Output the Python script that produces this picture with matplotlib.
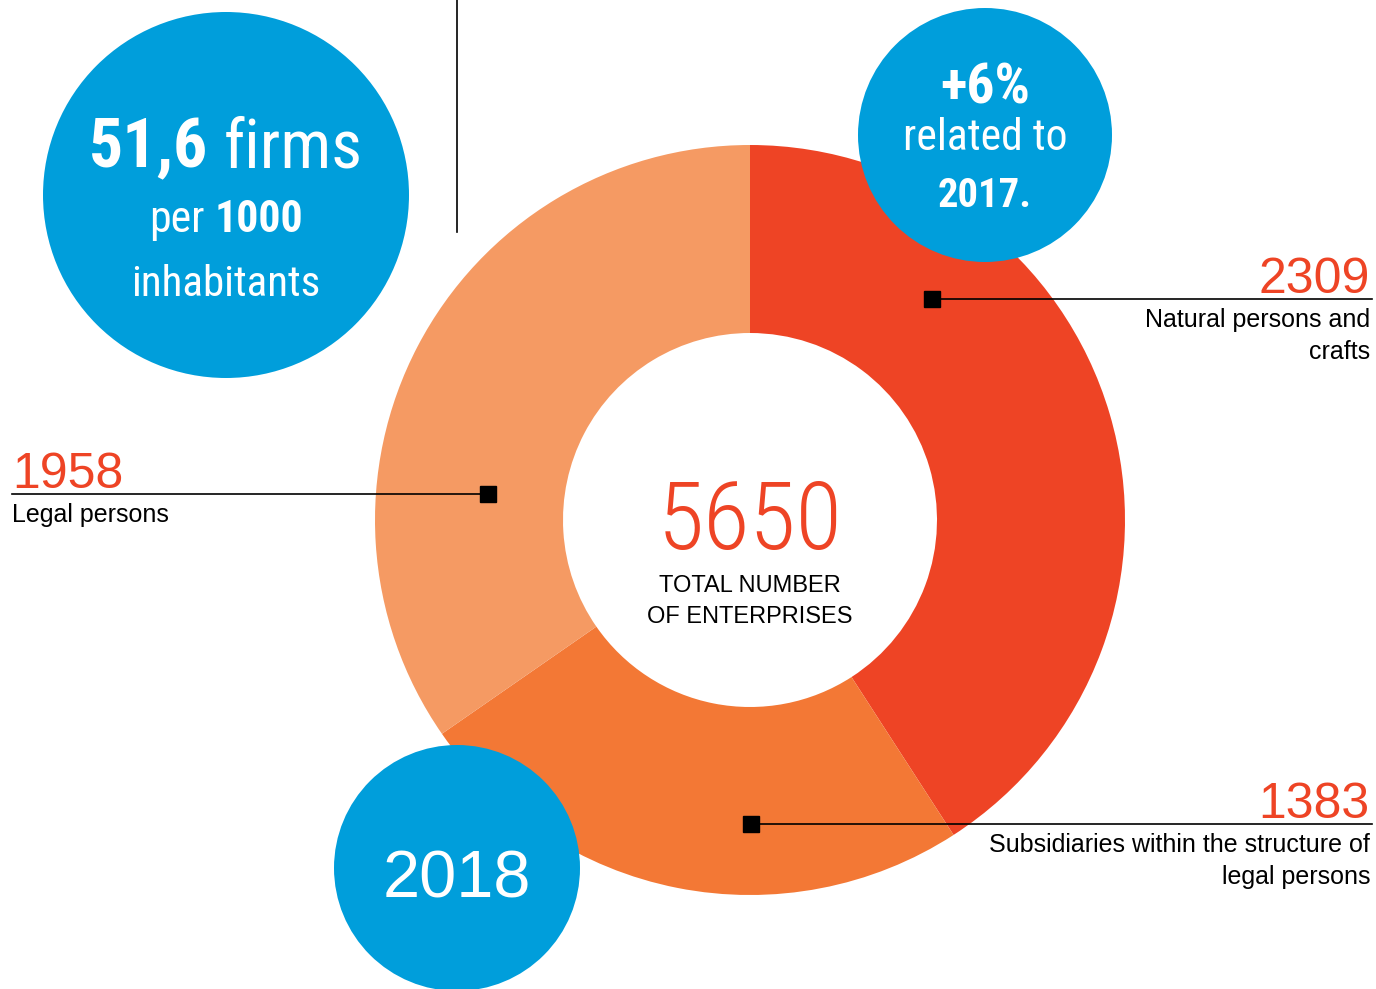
import matplotlib
matplotlib.use("Agg")
import matplotlib.pyplot as plt
from matplotlib import font_manager
from matplotlib.patches import Circle

W, H = 1376, 989

# data
values = [2309, 1383, 1958]
numbers = ["2309", "1383", "1958"]
descr = [["Natural persons and", "crafts"],
         ["Subsidiaries within the structure of", "legal persons"],
         ["Legal persons"]]
colors = ["#EE4425", "#F37835", "#F59A63"]
total_text = ["TOTAL NUMBER", "OF ENTERPRISES"]
year = "2018"
density_lines = [[("51,6", "bold"), ("firms", "normal")],
                 [("per", "normal"), ("1000", "bold")],
                 [("inhabitants", "normal")]]
growth_lines = [[("+6%", "bold")], [("related to", "normal")], [("2017.", "bold")]]

BLUE = "#009EDB"
RED = "#EE4425"

# narrowest family that is installed
fonts = font_manager.fontManager.ttflist
names = {f.name for f in fonts}
NARROW, STRETCH = "Roboto", "normal"
if "Liberation Sans Narrow" in names:
    NARROW = "Liberation Sans Narrow"
elif "Roboto Condensed" in names:
    NARROW = "Roboto Condensed"
elif any(f.name == "DejaVu Sans" and f.stretch == "condensed" for f in fonts):
    NARROW, STRETCH = "DejaVu Sans", "condensed"
DIN = "Liberation Sans"


def py(y):
    # pixel row (from top) -> data y
    return H - y


fig = plt.figure(figsize=(W / 100, H / 100), dpi=100)
ax = fig.add_axes([0, 0, 1, 1])

cx, cy, R = 750, 520, 375
ax.pie(values, colors=colors, startangle=90, counterclock=False,
       radius=R, center=(cx, py(cy)),
       wedgeprops=dict(width=188, linewidth=0))

ax.set_aspect("equal")
ax.set_xlim(0, W)
ax.set_ylim(0, H)
ax.axis("off")

# blue bubbles
for (bx, by, br) in [(226, 195, 183), (985, 135, 127), (457, 868, 123)]:
    ax.add_patch(Circle((bx, py(by)), br, color=BLUE, lw=0, zorder=3))

ax.plot([457, 457], [py(0), py(232)], color="black", lw=1.2, zorder=2)

renderer = fig.canvas.get_renderer()


def fitted_line(parts, x_c, y, size, width, color="white"):
    # a line of words in the narrow face, shrunk to fit the width
    objs = []
    for s, w in parts:
        objs.append(ax.text(0, py(y), s, family=NARROW, fontstretch=STRETCH,
                            fontsize=size, fontweight=w, color=color,
                            ha="left", va="baseline", zorder=5))
    gap = size * 0.24 * 100 / 72
    total = sum(t.get_window_extent(renderer).width for t in objs) + gap * (len(objs) - 1)
    k = min(1.0, width / total)
    for t in objs:
        t.set_fontsize(size * k)
    gap *= k
    widths = [t.get_window_extent(renderer).width for t in objs]
    x = x_c - (sum(widths) + gap * (len(objs) - 1)) / 2
    for t, wd in zip(objs, widths):
        t.set_x(x)
        x += wd + gap


# center
fitted_line([(str(sum(values)), "light")], cx, 549, 90, 185, color=RED)
for i, s in enumerate(total_text):
    ax.text(cx, py(592 + 31 * i), s, family=DIN, fontsize=17, color="black",
            ha="center", va="baseline", zorder=5)

# leader lines: (marker x, marker y, line end x, text side)
leaders = [(932, 299, 1372, "right"), (751, 824, 1372, "right"), (488, 494, 12, "left")]
for i, (mx, my, ex, side) in enumerate(leaders):
    ax.plot([mx, ex], [py(my), py(my)], color="black", lw=1.2, zorder=4)
    ax.plot(mx, py(my), marker="s", ms=11, color="black", zorder=4)
    tx = ex - 2 if side == "right" else ex
    ax.text(tx, py(my - 6), numbers[i], family=DIN, fontsize=36, color=RED,
            ha=side, va="baseline", zorder=5)
    for j, line in enumerate(descr[i]):
        ax.text(tx, py(my + 28 + 32 * j), line, family=DIN, fontsize=18, color="black",
                ha=side, va="baseline", zorder=5)

ax.text(457, py(898), year, family=DIN, fontsize=48, color="white",
        ha="center", va="baseline", zorder=5)

for parts, y, size, wd in zip(density_lines, [167, 232, 296], [64, 42, 40], [275, 155, 190]):
    fitted_line(parts, 226, y, size, wd)

for parts, y, size, wd in zip(growth_lines, [103, 150, 207], [40, 40, 40], [92, 165, 94]):
    fitted_line(parts, 985, y, size, wd)

fig.savefig("out.png", dpi=100)
